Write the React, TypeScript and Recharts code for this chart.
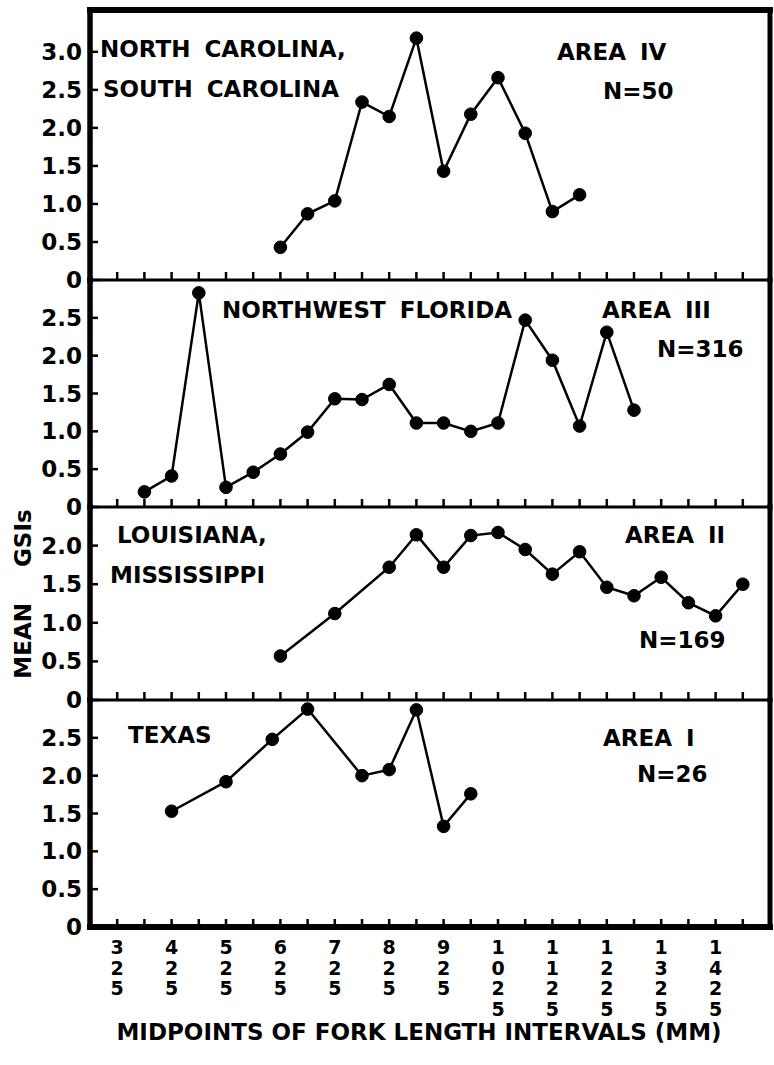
import React from 'react';
import { LineChart, Line, XAxis, YAxis, ReferenceLine } from 'recharts';

// midpoints of fork length intervals (mm)
const xTicks = [325, 375, 425, 475, 525, 575, 625, 675, 725, 775, 825, 875, 925, 975, 1025, 1075, 1125, 1175, 1225, 1275, 1325, 1375, 1425, 1475];
const xLabelTicks = [325, 425, 525, 625, 725, 825, 925, 1025, 1125, 1225, 1325, 1425];

// Area IV - North Carolina, South Carolina
const ncscLength = [625, 675, 725, 775, 825, 875, 925, 975, 1025, 1075, 1125, 1175];
const ncscGsi = [0.43, 0.87, 1.04, 2.34, 2.15, 3.18, 1.43, 2.18, 2.66, 1.93, 0.9, 1.12];

// Area III - Northwest Florida
const nwflLength = [375, 425, 475, 525, 575, 625, 675, 725, 775, 825, 875, 925, 975, 1025, 1075, 1125, 1175, 1225, 1275];
const nwflGsi = [0.2, 0.41, 2.83, 0.26, 0.46, 0.7, 0.99, 1.43, 1.42, 1.62, 1.11, 1.11, 1.0, 1.11, 2.47, 1.94, 1.07, 2.31, 1.28];

// Area II - Louisiana, Mississippi
const lamsLength = [625, 725, 825, 875, 925, 975, 1025, 1075, 1125, 1175, 1225, 1275, 1325, 1375, 1425, 1475];
const lamsGsi = [0.57, 1.12, 1.72, 2.14, 1.72, 2.13, 2.17, 1.95, 1.63, 1.92, 1.46, 1.35, 1.59, 1.26, 1.09, 1.5];

// Area I - Texas
const texLength = [425, 525, 610, 675, 775, 825, 875, 925, 975];
const texGsi = [1.53, 1.92, 2.48, 2.88, 2.0, 2.08, 2.87, 1.33, 1.76];

const yTicks30 = [0, 0.5, 1, 1.5, 2, 2.5, 3];
const yTicks25 = [0, 0.5, 1, 1.5, 2, 2.5];
const yTicks20 = [0, 0.5, 1, 1.5, 2];

const toRows = (xs: number[], ys: number[]) => xs.map((x, i) => ({ x, y: ys[i] }));

const FONT = '"DejaVu Sans", Verdana, sans-serif';
const PAD = 16;
const W = 774;

function XTick(props: any) {
  const { x, y, payload, showLabels } = props;
  const v = payload.value;
  return (
    <g>
      <line x1={x} x2={x} y1={y} y2={y - 8} stroke="#000" strokeWidth={2.5} />
      {showLabels && xLabelTicks.includes(v) &&
        String(v).split('').map((d, i) => (
          <text key={i} x={x} y={y + 27 + i * 20.5} textAnchor="middle" fontFamily={FONT}
            fontWeight="bold" fontSize={19} fill="#000">{d}</text>
        ))}
    </g>
  );
}

function YTick(props: any) {
  const { x, y, payload } = props;
  const v = payload.value;
  return (
    <g>
      <line x1={x} x2={x + 8} y1={y} y2={y} stroke="#000" strokeWidth={2.5} />
      <text x={x - 8} y={y + 8} textAnchor="end" fontFamily={FONT} fontWeight="bold"
        fontSize={23} fill="#000">{v === 0 ? '0' : v.toFixed(1)}</text>
    </g>
  );
}

type Note = { t: string; x: number; y: number };

function Panel({ top, bottom, yMax, yTicks, data, notes, last, first, children }: any) {
  const axisH = last ? 138 : PAD;
  const plotH = bottom - top;
  const height = PAD + plotH + axisH;
  const off = top - PAD;
  return (
    <div style={{ position: 'absolute', left: 0, top: off }}>
      <LineChart width={W} height={height} data={data} margin={{ top: PAD, right: 0, bottom: 0, left: 8 }}>
        <XAxis type="number" dataKey="x" domain={[275, 1525]} ticks={xTicks} interval={0}
          tickLine={false} tickSize={0} tickMargin={0} height={axisH}
          axisLine={{ stroke: '#000', strokeWidth: last ? 6 : 3, strokeLinecap: 'square' }}
          tick={(p: any) => <XTick {...p} showLabels={last} />} />
        <YAxis type="number" domain={[0, yMax]} ticks={yTicks} interval={0} width={82}
          tickLine={false} tickSize={0} tickMargin={0}
          axisLine={{ stroke: '#000', strokeWidth: 5.5, strokeLinecap: 'square' }}
          tick={(p: any) => <YTick {...p} />} />
        <YAxis yAxisId="r" orientation="right" domain={[0, 1]} width={4} tick={false} tickLine={false}
          axisLine={{ stroke: '#000', strokeWidth: 5, strokeLinecap: 'square' }} />
        {first && (
          <ReferenceLine y={yMax} stroke="#000" strokeWidth={6} strokeLinecap="square" />
        )}
        <Line dataKey="y" stroke="#000" strokeWidth={2.5} isAnimationActive={false}
          dot={{ r: 6.3, fill: '#000', stroke: '#000', strokeWidth: 1 }} />
        {notes.map((n: Note, i: number) => (
          <text key={i} x={n.x} y={n.y - off} fontFamily={FONT} fontWeight="bold" fontSize={23}
            fill="#000" style={{ wordSpacing: 6 }}>{n.t}</text>
        ))}
        {children && children(off)}
      </LineChart>
    </div>
  );
}

export default function App() {
  return (
    <div style={{ position: 'absolute', left: 0, top: 0, width: W, height: 1065, background: '#fff' }}>
      <Panel top={10} bottom={280} yMax={3.55} yTicks={yTicks30} first
        data={toRows(ncscLength, ncscGsi)}
        notes={[
          { t: 'NORTH CAROLINA,', x: 100, y: 57 },
          { t: 'SOUTH CAROLINA', x: 103, y: 97 },
          { t: 'AREA IV', x: 557, y: 60 },
          { t: 'N=50', x: 603, y: 99 },
        ]} />
      <Panel top={280} bottom={507} yMax={3.0} yTicks={yTicks25}
        data={toRows(nwflLength, nwflGsi)}
        notes={[
          { t: 'NORTHWEST FLORIDA', x: 222, y: 318 },
          { t: 'AREA III', x: 602, y: 318 },
          { t: 'N=316', x: 657, y: 357 },
        ]} />
      <Panel top={507} bottom={700} yMax={2.5} yTicks={yTicks20}
        data={toRows(lamsLength, lamsGsi)}
        notes={[
          { t: 'LOUISIANA,', x: 117, y: 543 },
          { t: 'MISSISSIPPI', x: 110, y: 583 },
          { t: 'AREA II', x: 625, y: 543 },
          { t: 'N=169', x: 639, y: 648 },
        ]}>
        {(off: number) => (
          <text x={0} y={0} transform={`translate(31, ${594 - off}) rotate(-90)`} textAnchor="middle"
            fontFamily={FONT} fontWeight="bold" fontSize={23} fill="#000"
            style={{ wordSpacing: 28 }}>MEAN GSIs</text>
        )}
      </Panel>
      <Panel top={700} bottom={927} yMax={3.0} yTicks={yTicks25} last
        data={toRows(texLength, texGsi)}
        notes={[
          { t: 'TEXAS', x: 128, y: 743 },
          { t: 'AREA I', x: 603, y: 746 },
          { t: 'N=26', x: 637, y: 782 },
        ]}>
        {(off: number) => (
          <text x={419} y={1040 - off} textAnchor="middle" fontFamily={FONT} fontWeight="bold"
            fontSize={23} fill="#000">MIDPOINTS OF FORK LENGTH INTERVALS (MM)</text>
        )}
      </Panel>
    </div>
  );
}
